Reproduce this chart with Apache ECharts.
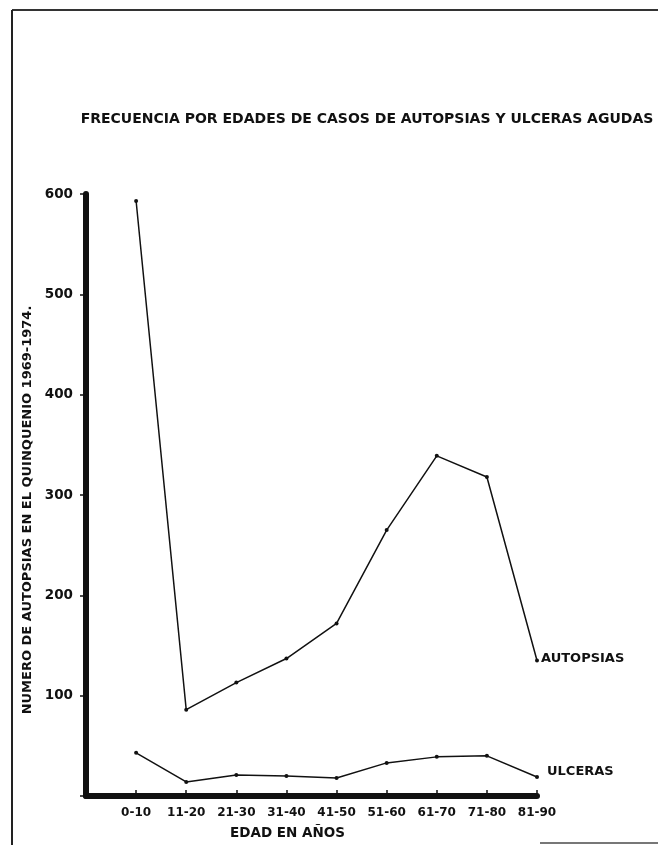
<!DOCTYPE html>
<html>
<head>
<meta charset="utf-8">
<style>
  html, body { margin: 0; padding: 0; background: #fff; }
  #chart { width: 658px; height: 845px; }
</style>
<script src="https://cdn.jsdelivr.net/npm/echarts@6/dist/echarts.min.js"></script>
</head>
<body>
<div id="chart"></div>
<script>
// datos
var edades = ['0-10', '11-20', '21-30', '31-40', '41-50', '51-60', '61-70', '71-80', '81-90'];
var autopsias = [593, 86, 113, 137, 172, 265, 339, 318, 135];
var ulceras = [43, 14, 21, 20, 18, 33, 39, 40, 19];

var fuente = 'DejaVu Sans';
var chart = echarts.init(document.getElementById('chart'));

function puntos(arr) {
    return arr.map(function (v, i) { return [i, v]; });
}

function serie(nombre, datos, offset) {
    return {
        name: nombre,
        type: 'line',
        data: puntos(datos),
        symbol: 'circle',
        symbolSize: 4,
        lineStyle: { color: '#111', width: 1.5 },
        itemStyle: { color: '#111' },
        endLabel: {
            show: true,
            formatter: nombre,
            offset: offset,
            color: '#111',
            fontFamily: fuente,
            fontWeight: 'bold',
            fontSize: 13
        },
        animation: false
    };
}

var option = {
    backgroundColor: '#fff',
    title: {
        text: 'FRECUENCIA POR EDADES DE CASOS DE AUTOPSIAS Y ULCERAS AGUDAS',
        left: 362,
        textAlign: 'center',
        top: 107,
        textStyle: {
            color: '#111',
            fontFamily: fuente,
            fontWeight: 'bold',
            fontSize: 14
        }
    },
    grid: { left: 86, right: 121, top: 194, bottom: 44 },
    xAxis: {
        type: 'value',
        min: -1,
        max: 8,
        interval: 1,
        splitLine: { show: false },
        axisLine: { lineStyle: { color: '#111', width: 6 } },
        axisTick: { inside: true, length: 6, lineStyle: { color: '#111', width: 1.5 } },
        axisLabel: {
            margin: 11,
            color: '#111',
            fontFamily: fuente,
            fontWeight: 'bold',
            fontSize: 12,
            formatter: function (v) { return v >= 0 ? edades[v] : ''; }
        },
        name: 'EDAD EN AÑOS',
        nameLocation: 'middle',
        nameGap: 30,
        nameTextStyle: {
            color: '#111',
            fontFamily: fuente,
            fontWeight: 'bold',
            fontSize: 13.5,
            padding: [0, 48, 0, 0]
        }
    },
    yAxis: {
        type: 'value',
        min: 0,
        max: 600,
        interval: 100,
        splitLine: { show: false },
        axisLine: { onZero: false, lineStyle: { color: '#111', width: 6 } },
        axisTick: { length: 6, lineStyle: { color: '#111', width: 1.5 } },
        axisLabel: {
            margin: 13,
            color: '#111',
            fontFamily: fuente,
            fontWeight: 'bold',
            fontSize: 13.5,
            padding: [0, 0, 8, 0],
            formatter: function (v) { return v > 0 ? v : ''; }
        },
        name: 'NUMERO DE AUTOPSIAS EN EL QUINQUENIO 1969-1974.',
        nameLocation: 'middle',
        nameGap: 43,
        nameTextStyle: {
            color: '#111',
            fontFamily: fuente,
            fontWeight: 'bold',
            fontSize: 13,
            padding: [0, 30, 0, 0]
        }
    },
    graphic: [
        // marco de la pagina
        { type: 'line', shape: { x1: 12, y1: 10, x2: 658, y2: 10 }, style: { stroke: '#333', lineWidth: 2 } },
        { type: 'line', shape: { x1: 12, y1: 10, x2: 12, y2: 845 }, style: { stroke: '#222', lineWidth: 2 } },
        { type: 'line', shape: { x1: 540, y1: 843, x2: 658, y2: 843 }, style: { stroke: '#777', lineWidth: 2 } }
    ],
    series: [
        serie('AUTOPSIAS', autopsias, [-4, -2]),
        serie('ULCERAS', ulceras, [2, -5])
    ]
};

chart.setOption(option);
</script>
</body>
</html>
